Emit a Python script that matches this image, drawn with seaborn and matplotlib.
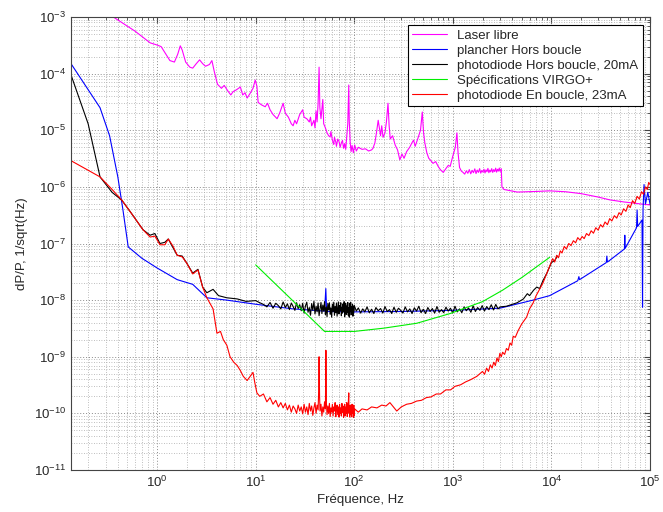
import matplotlib
matplotlib.use("Agg")
import matplotlib.pyplot as plt
import matplotlib.ticker as mticker
import seaborn as sns
import pandas as pd

# Laser libre (magenta): (frequency Hz, dP/P)
laser = [(0.134, 3.3e-3), (0.36, 1.0e-3), (0.6, 5.6e-4), (0.85, 3.5e-4), (1.0, 3.2e-4), (1.1, 3.0e-4),
         (1.35, 1.7e-4), (1.5, 1.6e-4), (1.62, 2.2e-4), (1.72, 3.1e-4), (1.8, 2.6e-4), (1.95, 1.6e-4),
         (2.15, 1.3e-4), (2.3, 1.25e-4), (2.5, 1.5e-4), (2.7, 1.75e-4), (2.9, 1.5e-4), (3.1, 1.35e-4),
         (3.4, 1.45e-4), (3.6, 1.7e-4), (3.8, 1.1e-4), (4.1, 6.5e-5), (4.5, 5.5e-5), (4.8, 6.2e-5),
         (5.2, 5.0e-5), (5.6, 4.2e-5), (5.9, 4.8e-5), (6.4, 5.2e-5), (7.0, 5.8e-5), (7.4, 4.2e-5),
         (7.8, 4.6e-5), (8.2, 3.7e-5), (8.8, 4.5e-5), (9.4, 5.5e-5), (9.9, 7.7e-5), (10.3, 6.0e-5),
         (10.6, 3.1e-5), (11.5, 2.8e-5), (12.5, 2.6e-5), (13.2, 3.0e-5), (14, 2.3e-5), (15, 1.9e-5),
         (16.5, 1.6e-5), (17.5, 2.0e-5), (19, 3.0e-5), (20, 2.0e-5), (21.5, 1.7e-5), (23, 1.3e-5),
         (24, 1.2e-5), (25, 1.5e-5), (26, 1.3e-5), (28, 1.9e-5), (30, 2.3e-5), (31, 1.7e-5),
         (33, 1.6e-5), (35, 1.4e-5), (36, 1.7e-5), (37, 1.2e-5), (39, 1.5e-5), (40, 1.1e-5),
         (41, 2.2e-5), (42, 1.4e-5), (43, 3.0e-5), (44, 1.3e-4), (44.8, 2.5e-5), (46, 1.6e-5),
         (47, 2.4e-5), (48, 3.5e-5), (49, 1.3e-5), (50, 1.2e-5), (52, 1.0e-5), (53, 9.0e-6),
         (55, 8.0e-6), (57, 7.6e-6), (58, 9.5e-6), (60, 6.7e-6), (62, 5.6e-6), (63, 7.5e-6),
         (65, 6.2e-6), (66, 5.2e-6), (68, 7.0e-6), (70, 6.4e-6), (72, 5.0e-6), (74, 6.0e-6),
         (76, 6.6e-6), (78, 4.8e-6), (80, 5.8e-6), (82, 4.6e-6), (84, 7.6e-6), (86, 1.3e-5),
         (88, 6.3e-5), (89, 1.5e-5), (91, 6.0e-6), (93, 4.2e-6), (95, 5.4e-6), (98, 4.0e-6),
         (101, 5.5e-6), (105, 4.3e-6), (110, 5.0e-6), (120, 4.6e-6), (130, 4.7e-6), (140, 4.3e-6),
         (150, 4.5e-6), (155, 4.8e-6), (162, 6.0e-6), (168, 9.0e-6), (175, 1.5e-5), (180, 1.1e-5),
         (185, 8.0e-6), (190, 1.2e-5), (196, 7.5e-6), (205, 9.0e-6), (212, 1.4e-5), (220, 3.0e-5),
         (226, 1.2e-5), (232, 7.0e-6), (245, 8.0e-6), (260, 5.5e-6), (275, 4.5e-6), (290, 3.0e-6),
         (305, 3.8e-6), (320, 3.2e-6), (340, 4.2e-6), (365, 5.0e-6), (385, 6.0e-6), (400, 6.7e-6),
         (415, 5.2e-6), (440, 7.0e-6), (470, 1.0e-5), (490, 2.1e-5), (505, 9.0e-6), (520, 6.0e-6),
         (545, 4.0e-6), (570, 3.2e-6), (590, 3.0e-6), (630, 2.6e-6), (670, 2.8e-6), (710, 2.3e-6),
         (750, 2.0e-6), (800, 1.8e-6), (850, 2.1e-6), (900, 2.4e-6), (940, 2.3e-6), (1000, 3.5e-6),
         (1060, 5.0e-6), (1100, 9.0e-6), (1130, 4.0e-6), (1170, 2.2e-6), (1220, 1.9e-6),
         (1270, 1.8e-6), (1320, 1.68e-6), (1370, 1.92e-6), (1420, 1.74e-6), (1470, 2.02e-6),
         (1520, 1.7e-6), (1570, 1.96e-6), (1620, 1.78e-6), (1670, 2.08e-6), (1720, 1.72e-6),
         (1770, 1.98e-6), (1820, 1.8e-6), (1870, 2.1e-6), (1920, 1.75e-6), (1970, 1.95e-6),
         (2020, 1.82e-6), (2070, 2.05e-6), (2120, 1.76e-6), (2170, 2.0e-6), (2220, 1.85e-6),
         (2270, 2.12e-6), (2320, 1.78e-6), (2370, 1.98e-6), (2420, 1.84e-6), (2480, 2.1e-6),
         (2540, 1.8e-6), (2600, 2.02e-6), (2660, 1.86e-6), (2720, 2.14e-6), (2780, 1.82e-6),
         (2840, 2.05e-6), (2900, 1.9e-6), (2960, 2.15e-6), (3020, 1.88e-6), (3100, 2.1e-6),
         (3150, 1.0e-6), (3300, 9.0e-7), (4500, 8.1e-7), (7000, 8.3e-7), (9600, 8.5e-7),
         (14000, 8.2e-7), (20000, 7.6e-7), (30000, 6.6e-7), (39000, 5.9e-7), (55000, 5.4e-7),
         (67000, 5.2e-7), (80000, 5.0e-7), (100000, 4.8e-7)]

# plancher Hors boucle (blue)
floor = [(0.134, 1.5e-4), (0.264, 2.5e-5), (0.33, 8.0e-6), (0.40, 1.5e-6), (0.45, 4.0e-7),
         (0.51, 8.7e-8), (0.7, 5.5e-8), (1.0, 3.7e-8), (1.6, 2.3e-8), (2.3, 1.9e-8), (3.2, 1.1e-8),
         (5.1, 1.0e-8), (10.3, 8.4e-9), (24, 7.0e-9), (50, 6.4e-9), (51.5, 1.6e-8), (52.5, 6.3e-9),
         (100, 6.2e-9), (300, 6.3e-9), (1000, 6.6e-9), (3000, 7.2e-9), (6500, 1.0e-8),
         (9600, 1.2e-8), (18500, 2.2e-8), (19000, 2.6e-8), (19300, 2.3e-8), (36000, 4.6e-8),
         (36500, 6.0e-8), (37000, 4.7e-8), (55000, 8.0e-8), (55500, 1.4e-7), (56000, 8.2e-8),
         (73000, 1.9e-7), (74000, 3.9e-7), (75000, 2.0e-7), (83000, 2.6e-7), (84000, 7.5e-9),
         (85000, 4.0e-7), (87000, 1.1e-6), (90000, 5.0e-7), (95000, 8.0e-7), (100000, 5.0e-7)]

# photodiode Hors boucle, 20mA (black)
outloop = [(0.134, 9.5e-5), (0.2, 1.3e-5), (0.264, 1.5e-6), (0.35, 8.0e-7), (0.44, 5.8e-7),
           (0.55, 3.4e-7), (0.72, 1.75e-7), (0.85, 1.4e-7), (0.95, 1.5e-7), (1.07, 1.0e-7),
           (1.2, 1.05e-7), (1.3, 1.2e-7), (1.45, 8.5e-8), (1.6, 6.2e-8), (1.8, 6.0e-8), (2.0, 4.5e-8),
           (2.3, 3.0e-8), (2.6, 3.5e-8), (2.9, 1.7e-8), (3.2, 1.35e-8), (3.7, 1.55e-8), (4.2, 1.2e-8),
           (5.1, 1.1e-8), (6.5, 1.05e-8), (8, 9.5e-9), (10, 9.8e-9), (11, 9.0e-9),
           (12, 8.4e-9), (13, 7.6e-9), (14, 9.1e-9), (15, 7.2e-9), (16, 8.8e-9), (17, 8.0e-9),
           (18, 7.0e-9), (19, 9.3e-9), (20, 7.4e-9), (21, 8.6e-9), (22, 6.8e-9), (23, 8.9e-9),
           (24, 7.7e-9), (25, 6.6e-9), (26, 9.0e-9), (27, 7.1e-9), (28, 8.3e-9), (29, 6.5e-9),
           (30, 8.8e-9), (31, 5.9e-9), (32, 7.9e-9), (33, 9.2e-9), (34, 6.1e-9), (35, 7.4e-9),
           (36, 5.4e-9), (37, 8.7e-9), (38, 6.6e-9), (39, 9.5e-9), (40, 5.7e-9), (41, 7.8e-9),
           (42, 6.2e-9), (43, 8.9e-9), (44, 5.3e-9), (45, 7.0e-9), (46, 9.1e-9), (47, 5.8e-9),
           (48, 8.2e-9), (49, 6.4e-9), (50, 9.4e-9), (51, 5.5e-9), (52, 7.6e-9), (53, 5.1e-9),
           (54, 8.8e-9), (55, 6.7e-9), (56, 9.0e-9), (57, 5.6e-9), (58, 7.3e-9), (59, 5.0e-9),
           (60, 8.5e-9), (61, 6.3e-9), (62, 9.2e-9), (63, 5.4e-9), (64, 7.7e-9), (65, 6.0e-9),
           (66, 8.9e-9), (67, 5.2e-9), (68, 7.1e-9), (69, 9.3e-9), (70, 5.7e-9), (71, 8.0e-9),
           (72, 6.5e-9), (73, 9.0e-9), (74, 5.3e-9), (75, 7.5e-9), (76, 5.9e-9), (77, 8.6e-9),
           (78, 6.2e-9), (79, 9.4e-9), (80, 5.1e-9), (81, 7.2e-9), (82, 8.7e-9), (83, 5.6e-9),
           (84, 7.9e-9), (85, 6.1e-9), (86, 9.1e-9), (87, 5.4e-9), (88, 7.4e-9), (89, 5.0e-9),
           (90, 8.8e-9), (91, 6.4e-9), (92, 9.2e-9), (93, 5.5e-9), (94, 7.6e-9), (95, 6.0e-9),
           (96, 8.5e-9), (97, 5.2e-9), (98, 7.8e-9), (99, 6.3e-9), (100, 8.1e-9),
           (105, 6.4e-9), (110, 7.3e-9), (116, 5.9e-9), (122, 7.0e-9), (128, 6.2e-9), (135, 7.6e-9),
           (142, 6.0e-9), (150, 6.9e-9), (158, 5.8e-9), (166, 7.4e-9), (175, 6.5e-9), (185, 7.1e-9),
           (195, 5.9e-9), (205, 7.7e-9), (216, 6.3e-9), (228, 6.8e-9), (240, 5.8e-9), (253, 7.5e-9),
           (267, 6.1e-9), (281, 7.2e-9), (296, 6.6e-9), (312, 5.9e-9), (329, 7.6e-9), (347, 6.2e-9),
           (366, 7.0e-9), (386, 5.8e-9), (407, 7.3e-9), (429, 6.4e-9), (452, 7.8e-9), (476, 6.0e-9),
           (502, 6.9e-9), (529, 5.8e-9), (558, 7.4e-9), (588, 6.3e-9), (620, 7.1e-9), (654, 5.9e-9),
           (690, 7.7e-9), (727, 6.1e-9), (767, 6.8e-9), (808, 6.0e-9), (852, 7.5e-9), (898, 6.4e-9),
           (947, 7.2e-9), (998, 5.9e-9), (1052, 7.8e-9), (1110, 6.2e-9), (1170, 7.0e-9),
           (1233, 6.0e-9), (1300, 7.6e-9), (1371, 6.5e-9), (1445, 7.3e-9), (1524, 6.1e-9),
           (1607, 7.9e-9), (1694, 6.3e-9), (1786, 7.4e-9), (1883, 6.6e-9), (1985, 8.0e-9),
           (2093, 6.4e-9), (2207, 7.7e-9), (2327, 6.8e-9), (2453, 8.3e-9), (2586, 6.7e-9),
           (2727, 8.4e-9), (2875, 7.0e-9), (3030, 7.6e-9),
           (3500, 7.8e-9), (4500, 9.0e-9), (5200, 1.05e-8), (5700, 1.3e-8), (6000, 1.2e-8),
           (6600, 1.5e-8), (7100, 1.7e-8), (7600, 1.6e-8), (8200, 2.2e-8), (9000, 3.0e-8),
           (10000, 4.6e-8), (10800, 5.0e-8), (11500, 6.0e-8)]

# Spécifications VIRGO+ (green)
spec = [(10, 4.2e-8), (50, 2.8e-9), (100, 2.8e-9), (200, 3.2e-9), (430, 3.9e-9), (940, 5.8e-9),
        (2000, 9.4e-9), (3200, 1.5e-8), (5000, 2.5e-8), (9600, 5.7e-8)]

# photodiode En boucle, 23mA (red)
inloop = [(0.134, 2.9e-6), (0.264, 1.5e-6), (0.35, 9.0e-7), (0.44, 5.8e-7), (0.55, 3.4e-7),
          (0.72, 1.75e-7), (0.85, 1.3e-7), (0.95, 1.35e-7), (1.07, 9.5e-8), (1.2, 9.5e-8),
          (1.3, 1.2e-7), (1.45, 9.0e-8), (1.6, 6.2e-8), (1.8, 5.8e-8), (2.0, 4.5e-8), (2.3, 2.9e-8),
          (2.6, 3.4e-8), (2.9, 1.7e-8), (3.2, 1.1e-8), (3.7, 7.0e-9), (4.05, 2.6e-9), (4.4, 2.8e-9),
          (4.7, 2.0e-9), (5.1, 1.6e-9), (5.5, 1.0e-9), (6.0, 8.0e-10), (6.5, 7.0e-10), (7.0, 5.7e-10),
          (7.5, 4.5e-10), (8.2, 3.8e-10), (8.8, 4.5e-10), (9.4, 5.3e-10), (9.8, 3.5e-10),
          (10.3, 2.3e-10), (11, 2.0e-10), (12, 2.2e-10), (13, 1.6e-10), (14, 1.9e-10),
          (15, 1.45e-10), (16, 1.7e-10), (17, 1.3e-10), (18, 1.55e-10), (19, 1.25e-10),
          (20, 1.5e-10), (21, 1.15e-10), (22, 1.4e-10), (23, 1.05e-10), (24, 1.35e-10),
          (25, 1.2e-10), (26, 1.0e-10), (27, 1.4e-10), (28, 1.1e-10), (29, 1.3e-10), (30, 9.8e-11),
          (31, 1.45e-10), (32, 1.05e-10), (33, 1.3e-10), (34, 9.5e-11), (35, 1.5e-10),
          (36, 1.1e-10), (37, 1.35e-10), (38, 9.2e-11), (39, 1.25e-10), (40, 1.55e-10),
          (41, 1.0e-10), (42, 1.4e-10), (43, 1.15e-10), (43.6, 2.5e-10), (44, 1.0e-9),
          (44.5, 2.0e-10), (45, 1.1e-10), (46, 1.45e-10), (47, 9.0e-11), (48, 1.3e-10),
          (49, 1.05e-10), (50, 1.6e-10), (51, 1.2e-10), (51.6, 1.3e-9), (52.2, 1.5e-10),
          (53, 9.5e-11), (54, 1.35e-10), (55, 1.0e-10), (56, 1.5e-10), (57, 8.8e-11),
          (58, 1.25e-10), (59, 1.05e-10), (60, 1.45e-10), (61, 9.0e-11), (62, 1.3e-10),
          (63, 1.1e-10), (64, 1.55e-10), (65, 8.7e-11), (66, 1.2e-10), (67, 1.4e-10),
          (68, 9.5e-11), (69, 1.3e-10), (70, 8.6e-11), (71, 1.45e-10), (72, 1.0e-10),
          (73, 1.25e-10), (74, 9.0e-11), (75, 1.5e-10), (76, 1.05e-10), (77, 1.35e-10),
          (78, 8.5e-11), (79, 1.2e-10), (80, 1.45e-10), (81, 9.0e-11), (82, 1.3e-10),
          (83, 1.0e-10), (84, 1.55e-10), (85, 8.8e-11), (86, 1.25e-10), (87, 1.5e-10),
          (88, 2.3e-10), (88.6, 1.0e-10), (89, 1.35e-10), (90, 8.6e-11), (91, 1.4e-10),
          (92, 9.5e-11), (93, 1.3e-10), (94, 8.7e-11), (95, 1.45e-10), (96, 1.0e-10),
          (97, 1.25e-10), (98, 8.5e-11), (99, 1.4e-10), (100, 9.0e-11), (101, 1.2e-10),
          (110, 1.05e-10), (120, 1.2e-10), (135, 1.15e-10), (150, 1.3e-10), (170, 1.25e-10),
          (190, 1.4e-10), (210, 1.35e-10), (230, 1.55e-10), (250, 1.3e-10), (270, 1.1e-10),
          (300, 1.3e-10), (340, 1.45e-10), (380, 1.5e-10), (430, 1.65e-10), (480, 1.7e-10),
          (540, 1.9e-10), (600, 1.95e-10), (680, 2.2e-10), (750, 2.2e-10), (850, 2.6e-10),
          (950, 2.6e-10), (1050, 3.0e-10), (1200, 3.2e-10), (1350, 3.6e-10), (1500, 3.9e-10),
          (1750, 4.5e-10), (2000, 5.5e-10), (2100, 4.9e-10), (2200, 6.3e-10), (2300, 5.5e-10),
          (2400, 7.2e-10), (2500, 6.3e-10), (2600, 8.0e-10), (2700, 7.0e-10), (2800, 9.5e-10),
          (2900, 8.2e-10), (3000, 1.15e-9), (3100, 1.0e-9), (3200, 1.2e-9), (3350, 1.1e-9),
          (3500, 1.4e-9), (3650, 1.3e-9), (3800, 1.75e-9), (3950, 1.6e-9), (4100, 2.3e-9),
          (4300, 2.2e-9), (4600, 2.9e-9), (5000, 3.8e-9), (5600, 5.0e-9), (6000, 7.0e-9),
          (6500, 8.8e-9), (7000, 1.2e-8), (7500, 1.5e-8), (8200, 2.0e-8), (9000, 3.0e-8),
          (10300, 5.4e-8), (10800, 4.7e-8), (11300, 6.2e-8), (11800, 5.6e-8), (12300, 7.4e-8),
          (12800, 6.8e-8), (13500, 8.9e-8), (14200, 8.0e-8), (15000, 1.0e-7), (15800, 9.2e-8),
          (16700, 1.12e-7), (17600, 1.03e-7), (18500, 1.27e-7), (19500, 1.15e-7), (20500, 1.33e-7),
          (21500, 1.22e-7), (22700, 1.5e-7), (24000, 1.38e-7), (25300, 1.68e-7), (26700, 1.52e-7),
          (28200, 1.9e-7), (29800, 1.72e-7), (31500, 2.15e-7), (33200, 1.95e-7), (35000, 2.4e-7),
          (37000, 2.15e-7), (39000, 2.75e-7), (41000, 2.5e-7), (43500, 3.1e-7), (46000, 2.8e-7),
          (48500, 3.5e-7), (51000, 3.2e-7), (54000, 4.1e-7), (57000, 3.7e-7), (60000, 4.8e-7),
          (63000, 4.3e-7), (66500, 5.7e-7), (70000, 5.1e-7), (74000, 6.8e-7), (78000, 6.1e-7),
          (82000, 8.2e-7), (86000, 7.4e-7), (90000, 1.0e-6), (94000, 9.0e-7), (97000, 1.2e-6),
          (100000, 1.1e-6)]

sns.set_style("white")
plt.rcParams["font.family"] = ["Liberation Sans", "DejaVu Sans"]
plt.rcParams["mathtext.fontset"] = "custom"
plt.rcParams["mathtext.rm"] = "Liberation Sans"

fig = plt.figure(figsize=(6.63, 5.12), dpi=100)
ax = fig.add_axes([71 / 663, 42 / 512, 579 / 663, 453 / 512])

series = [
    (laser, "#ff00ff", "Laser libre"),
    (floor, "#0000ff", "plancher Hors boucle"),
    (outloop, "black", "photodiode Hors boucle, 20mA"),
    (spec, "#00ee00", "Spécifications VIRGO+"),
    (inloop, "#ff0000", "photodiode En boucle, 23mA"),
]
handles = []
for pts, c, name in series:
    df = pd.DataFrame(pts, columns=["f", "p"])
    sns.lineplot(data=df, x="f", y="p", ax=ax, color=c, estimator=None, sort=False,
                 linewidth=0.8, legend=False)
    handles.append(ax.get_lines()[-1])

ax.set_xscale("log")
ax.set_yscale("log")
ax.set_xlim(0.134, 1e5)
ax.set_ylim(1e-11, 1e-3)

ax.set_xticks([1, 10, 100, 1000, 10000, 100000])
ax.set_yticks([1e-11, 1e-10, 1e-9, 1e-8, 1e-7, 1e-6, 1e-5, 1e-4, 1e-3])
ax.xaxis.set_minor_locator(mticker.LogLocator(base=10, subs=range(2, 10), numticks=20))
ax.yaxis.set_minor_locator(mticker.LogLocator(base=10, subs=range(2, 10), numticks=20))
ax.xaxis.set_minor_formatter(mticker.NullFormatter())
ax.yaxis.set_minor_formatter(mticker.NullFormatter())

# MATLAB-like dotted grid
ax.grid(True, which="major", linestyle=(0, (1, 2)), color="#8a8a8a", linewidth=0.7)
ax.grid(True, which="minor", linestyle=(0, (1, 2)), color="#a8a8a8", linewidth=0.6)
ax.tick_params(which="both", direction="in", top=True, right=True, labelsize=9.5, color="#444444")
ax.tick_params(which="major", length=4)
ax.tick_params(which="minor", length=2)
for s in ax.spines.values():
    s.set_color("#444444")
    s.set_linewidth(0.8)

ax.set_xlabel("Fréquence, Hz", fontsize=9.5, labelpad=3)
ax.set_ylabel("dP/P, 1/sqrt(Hz)", fontsize=9.5, labelpad=4)

leg = ax.legend(handles, [s[2] for s in series], loc="upper right",
                bbox_to_anchor=(0.988, 0.982), fontsize=9.5, fancybox=False, framealpha=1,
                edgecolor="black", borderpad=0.35, labelspacing=0.2, handlelength=2.6,
                handletextpad=0.8, borderaxespad=0)
leg.get_frame().set_linewidth(0.8)

fig.savefig("out.png", dpi=100)
